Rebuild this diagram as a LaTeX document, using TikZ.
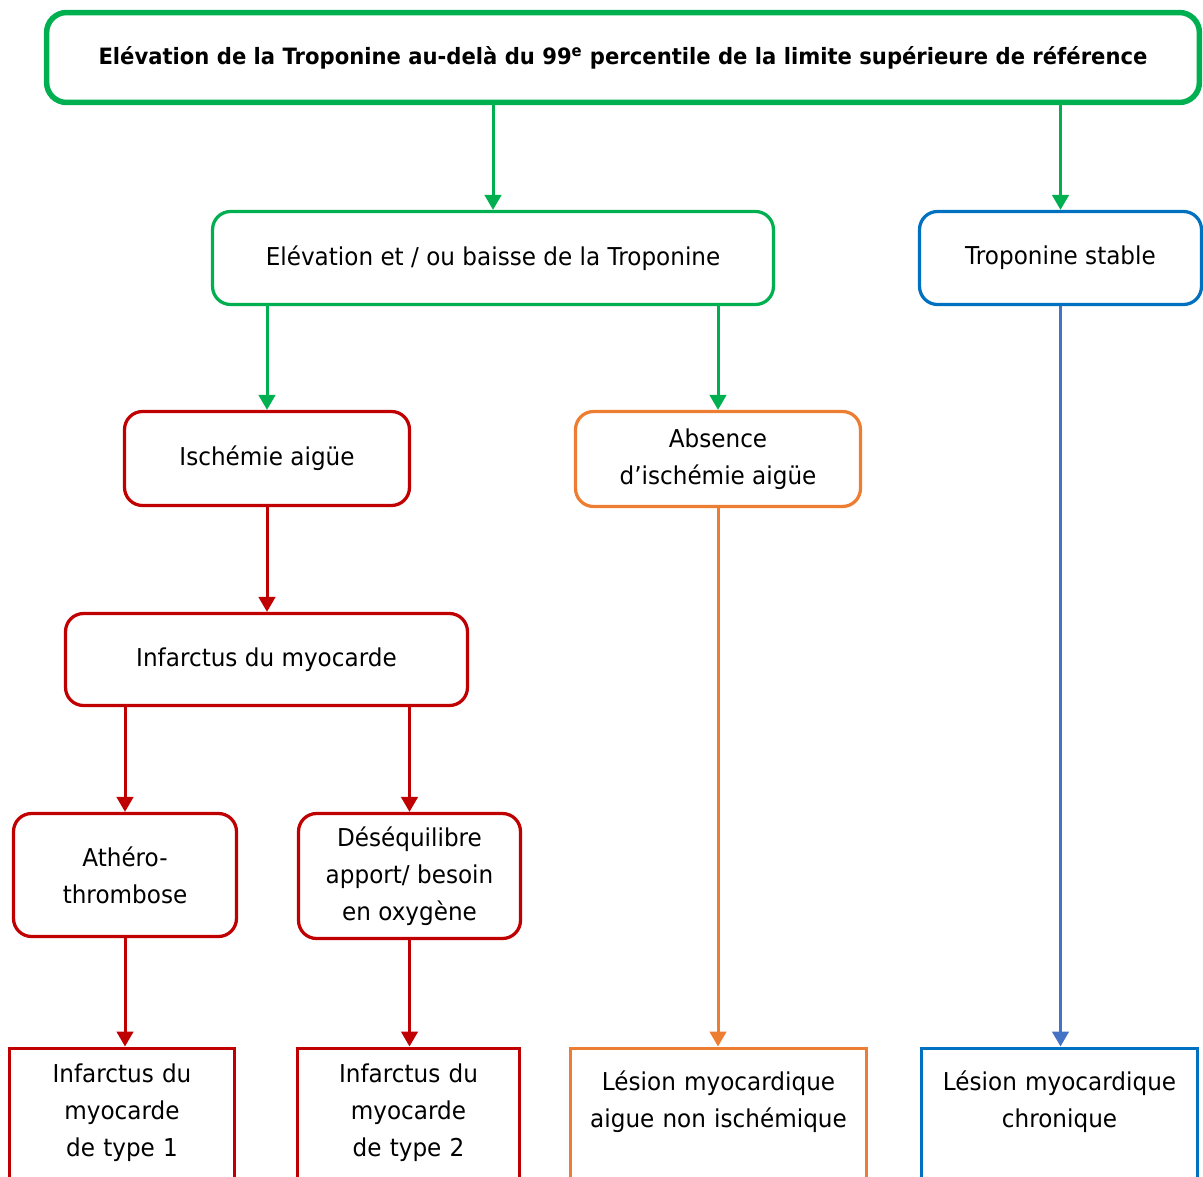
\documentclass[tikz,border=0pt]{standalone}
\usepackage{fontspec}
\setmainfont[FakeStretch=0.94]{DejaVu Sans}
\usepackage{tikz}
\usetikzlibrary{arrows.meta}

\definecolor{vert}{RGB}{0,176,80}
\definecolor{rouge}{RGB}{192,0,0}
\definecolor{orange}{RGB}{237,125,49}
\definecolor{bleu}{RGB}{0,112,192}
\definecolor{bleuclair}{RGB}{68,114,196}

\begin{document}
\begin{tikzpicture}[x=0.02cm,y=-0.02cm,
  font=\fontsize{14}{21}\selectfont,
  rbox/.style={draw,rectangle,rounded corners=0.36cm,line width=0.065cm,align=center,inner sep=0pt},
  lowbox/.style={draw,rectangle,line width=0.065cm,anchor=north,align=center,text depth=3cm},
  fleche/.style={line width=0.06cm,-{Triangle[width=0.33cm,length=0.3cm]}}]
       \useasboundingbox (0,0) rectangle (1203,1176);
       \clip (0,0) rectangle (1203,1176);
       % top row
       \node[rbox,draw=vert,line width=0.11cm,rounded corners=0.4cm,minimum width=23.06cm,minimum height=1.8cm,font=\fontsize{12.8}{21}\selectfont\bfseries]
         (elev) at (623,57.5) {\rule{0pt}{0.3cm}Elévation de la Troponine au-delà du 99\textsuperscript{e} percentile de la limite supérieure de référence};
       \node[rbox,draw=vert,minimum width=11.22cm,minimum height=1.86cm] (evol) at (493,258) {Elévation et / ou baisse de la Troponine};
       \node[rbox,draw=bleu,minimum width=5.64cm,minimum height=1.86cm] (stable) at (1060.5,258) {Troponine stable};
       % second row
       \node[rbox,draw=rouge,minimum width=5.7cm,minimum height=1.88cm] (isch) at (267,458.5) {Ischémie aigüe};
       \node[rbox,draw=orange,minimum width=5.7cm,minimum height=1.9cm] (absence) at (718,459) {Absence\\d’ischémie aigüe};
       \node[rbox,draw=rouge,minimum width=8.04cm,minimum height=1.84cm] (infarct) at (266.5,659.5) {Infarctus du myocarde};
       \node[rbox,draw=rouge,minimum width=4.46cm,minimum height=2.46cm] (athero) at (125,875) {Athéro-\\thrombose};
       \node[rbox,draw=rouge,minimum width=4.44cm,minimum height=2.5cm] (deseq) at (409.5,876) {Déséquilibre\\apport/ besoin\\en oxygène};
       % bottom row
       \node[lowbox,draw=rouge,text width=4.5cm-0.7cm,inner xsep=0.35cm,inner ysep=0.32cm] (type1) at (122,1046.5) {Infarctus du\\myocarde\\de type 1};
       \node[lowbox,draw=rouge,text width=4.44cm-0.7cm,inner xsep=0.35cm,inner ysep=0.32cm] (type2) at (408.5,1046.5) {Infarctus du\\myocarde\\de type 2};
       \node[lowbox,draw=orange,text width=5.92cm-0.7cm,inner xsep=0.35cm,inner ysep=0.46cm] (lesaigue) at (718.5,1046.5) {Lésion myocardique\\aigue non ischémique};
       \node[lowbox,draw=bleu,text width=5.52cm-0.7cm,inner xsep=0.35cm,inner ysep=0.46cm] (leschron) at (1059.5,1046.5) {Lésion myocardique\\chronique};
       % arrows
       \draw[fleche,vert] (elev.south -| evol.north) -- (evol.north);
       \draw[fleche,vert] (elev.south -| stable.north) -- (stable.north);
       \draw[fleche,vert] (evol.south -| isch.north) -- (isch.north);
       \draw[fleche,vert] (evol.south -| absence.north) -- (absence.north);
       \draw[fleche,rouge] (isch.south) -- (isch.south |- infarct.north);
       \draw[fleche,rouge] (infarct.south -| athero.north) -- (athero.north);
       \draw[fleche,rouge] (infarct.south -| deseq.north) -- (deseq.north);
       \draw[fleche,rouge] (athero.south) -- (athero.south |- type1.north);
       \draw[fleche,rouge] (deseq.south) -- (deseq.south |- type2.north);
       \draw[fleche,orange] (absence.south) -- (absence.south |- lesaigue.north);
       \draw[fleche,bleuclair] (stable.south) -- (stable.south |- leschron.north);
      \end{tikzpicture}
\end{document}
